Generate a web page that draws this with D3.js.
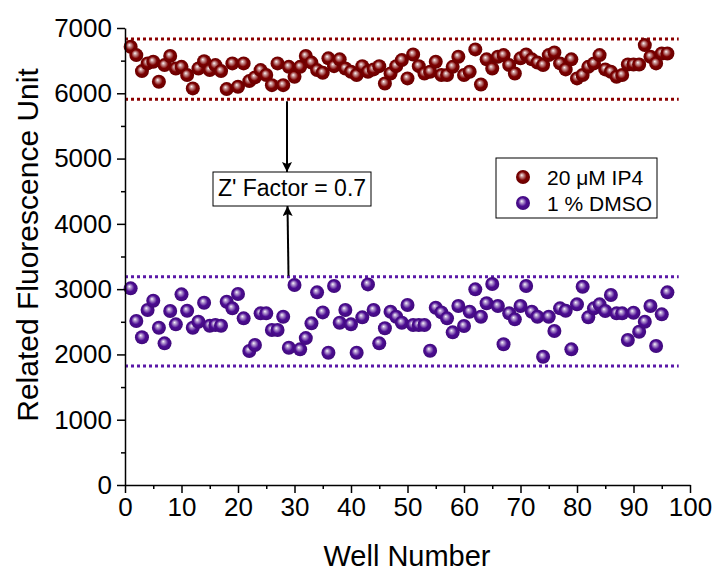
<!DOCTYPE html>
<html>
<head>
<meta charset="utf-8">
<script src="https://cdn.jsdelivr.net/npm/d3@7"></script>
<style>
  body { margin: 0; background: #fff; }
  svg text { font-family: "Liberation Sans", Arial, sans-serif; fill: #000; }
</style>
</head>
<body>
<div id="chart"></div>
<script>
// well numbers 1..96
let wells = d3.range(1, 97);

// 20 uM IP4 readings
let ip4Values = [
    6712, 6585, 6340, 6458, 6482, 6176, 6432, 6570, 6380, 6405,
    6279, 6075, 6380, 6490, 6355, 6432, 6340, 6064, 6458, 6100,
    6458, 6187, 6243, 6355, 6279, 6125, 6458, 6125, 6405, 6253,
    6405, 6570, 6470, 6355, 6314, 6535, 6416, 6520, 6380, 6330,
    6279, 6416, 6330, 6366, 6416, 6151, 6304, 6416, 6508, 6228,
    6595, 6416, 6304, 6330, 6482, 6279, 6279, 6405, 6560, 6279,
    6330, 6672, 6135, 6520, 6380, 6560, 6585, 6432, 6304, 6535,
    6595, 6520, 6470, 6432, 6585, 6625, 6458, 6366, 6520, 6228,
    6279, 6405, 6458, 6585, 6366, 6330, 6253, 6279, 6442, 6442,
    6442, 6738, 6560, 6458, 6610, 6610
];

// 1 % DMSO readings
let dmsoValues = [
    3012, 2511, 2262, 2680, 2822, 2409, 2170, 2665, 2461, 2920,
    2670, 2409, 2501, 2792, 2440, 2450, 2440, 2807, 2706, 2925,
    2553, 2052, 2144, 2629, 2629, 2374, 2374, 2577, 2103, 3063,
    2078, 2250, 2476, 2951, 2644, 2026, 3047, 2486, 2680, 2461,
    2026, 2568, 3073, 2680, 2170, 2400, 2654, 2577, 2486, 2757,
    2450, 2450, 2450, 2057, 2715, 2644, 2553, 2338, 2741, 2435,
    2654, 2997, 2577, 2783, 3078, 2741, 2155, 2629, 2537, 2741,
    3047, 2654, 2577, 1965, 2577, 2358, 2706, 2670, 2078, 2767,
    3037, 2568, 2706, 2767, 2665, 2910, 2629, 2629, 2220, 2639,
    2348, 2501, 2741, 2129, 2614, 2951
];

// control limits (mean +/- 3 SD)
let ip4Limits = [6831, 5908];
let dmsoLimits = [3190, 1823];
let limitExtent = [0, 98];

let seriesNames = ["20 \u03bcM IP4", "1 % DMSO"];
let seriesColors = ["#7c0000", "#4c0c92"];
let zFactorLabel = "Z' Factor = 0.7";

let xTicks = d3.range(0, 101, 10);
let yTicks = d3.range(0, 7001, 1000);

let W = 715, H = 573;
let svg = d3.select("#chart").append("svg")
    .attr("width", W)
    .attr("height", H);

let x = d3.scaleLinear().domain([0, 100]).range([125, 690]);
let y = d3.scaleLinear().domain([0, 7000]).range([485, 28]);

// sphere gradients
let defs = svg.append("defs");
function sphere(id, color) {
    let g = defs.append("radialGradient").attr("id", id)
        .attr("cx", "50%").attr("cy", "50%").attr("r", "55%")
        .attr("fx", "40%").attr("fy", "36%");
    g.append("stop").attr("offset", "0%").attr("stop-color", "#ffffff");
    g.append("stop").attr("offset", "14%").attr("stop-color", d3.interpolateRgb("#ffffff", color)(0.3));
    g.append("stop").attr("offset", "55%").attr("stop-color", color);
    g.append("stop").attr("offset", "100%").attr("stop-color", d3.color(color).darker(0.6));
}
sphere("g0", seriesColors[0]);
sphere("g1", seriesColors[1]);

// dotted limit lines
function limits(vals, color) {
    svg.selectAll(null).data(vals).enter().append("line")
        .attr("x1", x(limitExtent[0]))
        .attr("x2", x(limitExtent[1]))
        .attr("y1", d => y(d))
        .attr("y2", d => y(d))
        .attr("stroke", color)
        .attr("stroke-width", 3)
        .attr("stroke-dasharray", "3,3");
}
limits(ip4Limits, "#8b0000");
limits(dmsoLimits, "#5a18a8");

// points
let r = 7;
function points(vals, fill) {
    svg.append("g").selectAll("circle")
        .data(vals).enter().append("circle")
        .attr("cx", (d, i) => x(wells[i]))
        .attr("cy", d => y(d))
        .attr("r", r)
        .attr("fill", fill);
}
points(ip4Values, "url(#g0)");
points(dmsoValues, "url(#g1)");

// axes
svg.append("g")
    .attr("transform", "translate(" + x(0) + ",0)")
    .call(d3.axisLeft(y).tickValues(yTicks).tickFormat(d3.format("d"))
        .tickSize(8).tickSizeOuter(0).tickPadding(5));
svg.append("g")
    .attr("transform", "translate(" + x(0) + ",0)")
    .call(d3.axisLeft(y).tickValues(d3.range(500, 7000, 1000)).tickSize(4).tickFormat(""))
    .select(".domain").remove();

svg.append("g")
    .attr("transform", "translate(0," + y(0) + ")")
    .call(d3.axisBottom(x).tickValues(xTicks).tickFormat(d3.format("d"))
        .tickSize(8).tickSizeOuter(0).tickPadding(5));
svg.append("g")
    .attr("transform", "translate(0," + y(0) + ")")
    .call(d3.axisBottom(x).tickValues(d3.range(5, 100, 10)).tickSize(4).tickFormat(""))
    .select(".domain").remove();

svg.selectAll(".domain, .tick line").attr("stroke", "#000").attr("stroke-width", 1.5);
svg.selectAll(".tick text").style("font-size", "26px")
    .style("font-family", "'Liberation Sans', Arial, sans-serif");

// axis titles
svg.append("text")
    .attr("transform", "translate(38,245) rotate(-90)")
    .attr("text-anchor", "middle")
    .style("font-size", "30px")
    .text("Related Fluorescence Unit");

svg.append("text")
    .attr("x", 407)
    .attr("y", 566)
    .attr("text-anchor", "middle")
    .style("font-size", "29px")
    .text("Well Number");

// Z' factor annotation
let boxX = 213, boxY = 172, boxW = 158, boxH = 34;
svg.append("rect")
    .attr("x", boxX).attr("y", boxY)
    .attr("width", boxW).attr("height", boxH)
    .attr("fill", "#fff").attr("stroke", "#000").attr("stroke-width", 1);
svg.append("text")
    .attr("x", boxX + boxW / 2)
    .attr("y", boxY + 24)
    .attr("text-anchor", "middle")
    .style("font-size", "23px")
    .text(zFactorLabel);

defs.append("marker").attr("id", "arrow")
    .attr("viewBox", "0 0 10 10").attr("refX", 10).attr("refY", 5)
    .attr("markerWidth", 5).attr("markerHeight", 5)
    .attr("markerUnits", "strokeWidth")
    .attr("orient", "auto")
    .append("path").attr("d", "M0,0 L10,5 L0,10 L2,5 Z").attr("fill", "#000");

svg.append("line")
    .attr("x1", 287).attr("y1", y(ip4Limits[1]) + 2)
    .attr("x2", 287).attr("y2", boxY)
    .attr("stroke", "#000").attr("stroke-width", 2)
    .attr("marker-end", "url(#arrow)");
svg.append("line")
    .attr("x1", 288.5).attr("y1", y(dmsoLimits[0]) - 1)
    .attr("x2", 287.5).attr("y2", boxY + boxH)
    .attr("stroke", "#000").attr("stroke-width", 2)
    .attr("marker-end", "url(#arrow)");

// legend
let legend = svg.append("g").attr("transform", "translate(496,158)");
legend.append("rect")
    .attr("width", 161).attr("height", 60)
    .attr("fill", "#fff").attr("stroke", "#000").attr("stroke-width", 1);
let items = legend.selectAll(".item").data(seriesNames).enter().append("g")
    .attr("transform", (d, i) => "translate(0," + (19 + i * 26) + ")");
items.append("circle")
    .attr("cx", 27).attr("cy", 0).attr("r", 7)
    .attr("fill", (d, i) => "url(#g" + i + ")");
items.append("text")
    .attr("x", 51).attr("y", 7.5)
    .style("font-size", "21px")
    .text(d => d);
</script>
</body>
</html>
